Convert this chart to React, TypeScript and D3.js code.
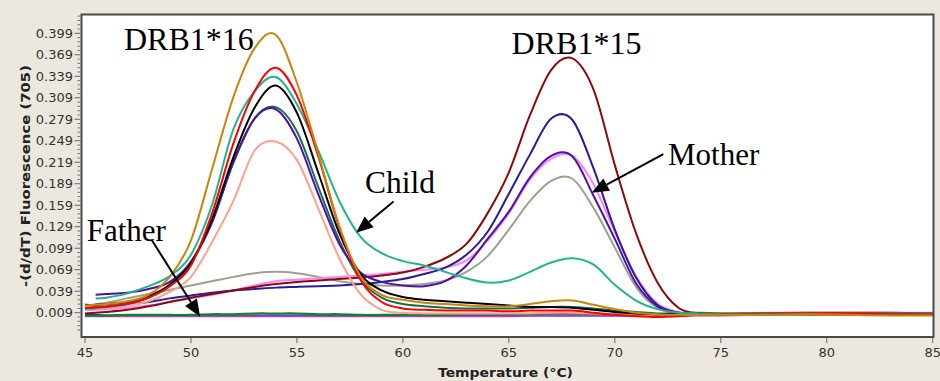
import React from "react";
import * as d3 from "d3";

const temps = [45, 45.5, 46, 47, 48, 49, 50, 51, 52, 53, 54, 55, 56, 57, 58, 59, 60, 61, 62, 63, 64, 65, 66, 67, 68, 69, 70, 71, 72, 73, 74, 75, 77, 79, 81, 83, 85];

// -(d/dT) Fluorescence (705) values, one array per sample
const gold = [0.019, 0.020, 0.021, 0.025, 0.034, 0.059, 0.110, 0.210, 0.310, 0.378, 0.397, 0.330, 0.232, 0.130, 0.060, 0.034, 0.027, 0.023, 0.021, 0.019, 0.018, 0.018, 0.021, 0.025, 0.026, 0.020, 0.014, 0.009, 0.007, 0.006, 0.006, 0.006, 0.006, 0.007, 0.006, 0.005, 0.005];
const red = [0.016, 0.017, 0.018, 0.022, 0.030, 0.046, 0.075, 0.148, 0.245, 0.318, 0.351, 0.312, 0.228, 0.128, 0.055, 0.024, 0.015, 0.013, 0.012, 0.012, 0.012, 0.011, 0.012, 0.012, 0.012, 0.009, 0.006, 0.004, 0.003, 0.004, 0.006, 0.007, 0.007, 0.008, 0.008, 0.007, 0.007];
const teal = [null, 0.029, 0.030, 0.036, 0.046, 0.060, 0.090, 0.160, 0.265, 0.318, 0.338, 0.300, 0.236, 0.165, 0.115, 0.092, 0.081, 0.075, 0.066, 0.057, 0.051, 0.054, 0.066, 0.079, 0.085, 0.076, 0.048, 0.026, 0.014, 0.009, 0.008, 0.008, 0.008, 0.008, 0.008, 0.008, 0.008];
const black = [0.020, 0.020, 0.021, 0.024, 0.032, 0.048, 0.078, 0.140, 0.226, 0.295, 0.326, 0.288, 0.205, 0.120, 0.063, 0.040, 0.031, 0.027, 0.025, 0.023, 0.021, 0.019, 0.017, 0.017, 0.016, 0.013, 0.010, 0.008, 0.007, 0.007, 0.008, 0.007, 0.007, 0.007, 0.007, 0.007, 0.007];
const darkGreen = [0.015, 0.016, 0.017, 0.021, 0.030, 0.048, 0.080, 0.137, 0.218, 0.280, 0.296, 0.262, 0.185, 0.110, 0.055, 0.030, 0.021, 0.018, 0.016, 0.015, 0.015, 0.015, 0.016, 0.017, 0.017, 0.015, 0.012, 0.010, 0.008, 0.008, 0.009, 0.008, 0.008, 0.008, 0.008, 0.008, 0.008];
const indigo = [null, 0.034, 0.035, 0.037, 0.042, 0.052, 0.080, 0.135, 0.220, 0.280, 0.293, 0.252, 0.175, 0.105, 0.065, 0.052, 0.047, 0.046, 0.053, 0.075, 0.112, 0.150, 0.198, 0.228, 0.227, 0.172, 0.112, 0.050, 0.018, 0.009, 0.007, 0.007, 0.008, 0.008, 0.008, 0.008, 0.008];
const salmon = [0.014, 0.015, 0.016, 0.019, 0.025, 0.038, 0.059, 0.108, 0.165, 0.235, 0.248, 0.222, 0.155, 0.085, 0.035, 0.013, 0.009, 0.008, 0.008, 0.008, 0.008, 0.008, 0.008, 0.009, 0.009, 0.008, 0.007, 0.006, 0.006, 0.006, 0.006, 0.006, 0.006, 0.006, 0.007, 0.007, 0.007];
const maroon = [0.008, 0.009, 0.010, 0.013, 0.018, 0.024, 0.030, 0.035, 0.040, 0.045, 0.049, 0.052, 0.054, 0.056, 0.058, 0.061, 0.065, 0.073, 0.085, 0.105, 0.148, 0.205, 0.285, 0.348, 0.364, 0.320, 0.215, 0.120, 0.052, 0.016, 0.008, 0.007, 0.008, 0.009, 0.009, 0.009, 0.008];
const navy = [0.014, 0.015, 0.017, 0.020, 0.024, 0.029, 0.033, 0.037, 0.040, 0.042, 0.044, 0.045, 0.046, 0.047, 0.049, 0.052, 0.056, 0.063, 0.072, 0.090, 0.122, 0.175, 0.230, 0.280, 0.278, 0.210, 0.125, 0.058, 0.020, 0.009, 0.007, 0.007, 0.008, 0.008, 0.008, 0.007, 0.007];
const pink = [0.013, 0.013, 0.014, 0.016, 0.019, 0.024, 0.029, 0.034, 0.040, 0.047, 0.053, 0.055, 0.057, 0.059, 0.061, 0.063, 0.066, 0.069, 0.072, 0.082, 0.110, 0.148, 0.195, 0.224, 0.228, 0.188, 0.122, 0.060, 0.022, 0.010, 0.008, 0.008, 0.009, 0.009, 0.009, 0.009, 0.009];
const grey = [null, 0.021, 0.023, 0.029, 0.035, 0.041, 0.047, 0.053, 0.059, 0.064, 0.066, 0.064, 0.059, 0.053, 0.049, 0.047, 0.047, 0.049, 0.054, 0.066, 0.088, 0.125, 0.165, 0.193, 0.196, 0.155, 0.100, 0.045, 0.016, 0.008, 0.007, 0.007, 0.008, 0.008, 0.008, 0.008, 0.008];
const flatGreen = [0.005, 0.005, 0.005, 0.006, 0.006, 0.006, 0.006, 0.007, 0.007, 0.008, 0.008, 0.008, 0.007, 0.007, 0.006, 0.006, 0.006, 0.006, 0.006, 0.007, 0.007, 0.007, 0.007, 0.008, 0.008, 0.007, 0.007, 0.006, 0.006, 0.006, 0.006, 0.007, 0.007, 0.007, 0.007, 0.007, 0.007];
const flatBlue = [0.006, 0.006, 0.005, 0.005, 0.005, 0.005, 0.005, 0.005, 0.005, 0.005, 0.005, 0.005, 0.005, 0.005, 0.005, 0.005, 0.005, 0.005, 0.005, 0.005, 0.005, 0.005, 0.005, 0.005, 0.005, 0.005, 0.005, 0.005, 0.005, 0.005, 0.006, 0.006, 0.006, 0.007, 0.007, 0.007, 0.007];
const flatMagenta = [0.004, 0.004, 0.004, 0.004, 0.004, 0.004, 0.004, 0.004, 0.004, 0.004, 0.004, 0.004, 0.004, 0.004, 0.004, 0.004, 0.004, 0.004, 0.004, 0.004, 0.004, 0.004, 0.005, 0.005, 0.005, 0.005, 0.005, 0.005, 0.005, 0.005, 0.005, 0.005, 0.006, 0.006, 0.006, 0.006, 0.006];

// Axis ticks
const xTicks = [45, 50, 55, 60, 65, 70, 75, 80, 85];
const yTicks = [0.009, 0.039, 0.069, 0.099, 0.129, 0.159, 0.189, 0.219, 0.249, 0.279, 0.309, 0.339, 0.369, 0.399];
const yTickLabels = ["0.009", "0.039", "0.069", "0.099", "0.129", "0.159", "0.189", "0.219", "0.249", "0.279", "0.309", "0.339", "0.369", "0.399"];

// Annotation labels (data coordinates)
const labelTexts = ["DRB1*16", "DRB1*15", "Mother", "Child", "Father"];
const labelT = [46.84, 65.13, 72.51, 58.21, 45.08];
const labelV = [0.3757, 0.3701, 0.2152, 0.1761, 0.1084];
const labelSize = [32, 32, 31, 31.5, 31];
// Arrows: from (T0,V0) to (T1,V1)
const arrowT0 = [59.56, 72.29, 48.15];
const arrowV0 = [0.1642, 0.2305, 0.1105];
const arrowT1 = [57.79, 68.91, 50.43];
const arrowV1 = [0.1207, 0.1765, 0.0034];

const series = [
  { values: flatBlue, color: "#1010F0" },
  { values: flatMagenta, color: "#B040C0" },
  { values: flatGreen, color: "#008A1A" },
  { values: grey, color: "#9EA08F" },
  { values: pink, color: "#FF80FF" },
  { values: navy, color: "#2A1A9C" },
  { values: maroon, color: "#8B0A0A" },
  { values: salmon, color: "#FFA08C" },
  { values: darkGreen, color: "#14704C" },
  { values: indigo, color: "#4E10A6" },
  { values: black, color: "#000000" },
  { values: teal, color: "#1FB590" },
  { values: red, color: "#FF0000" },
  { values: gold, color: "#C8860A" },
];

export default function App() {
  const W = 940;
  const H = 381;
  const x = d3.scaleLinear().domain([45, 85]).range([85, 932.7]);
  const y = d3.scaleLinear().domain([0.009, 0.399]).range([312.7, 33.3]);
  const plot = { left: 81.5, right: 933.5, top: 14.5, bottom: 337 };

  const line = d3
    .line<[number, number | null]>()
    .defined((d) => d[1] != null)
    .x((d) => x(d[0]))
    .y((d) => y(d[1] as number))
    .curve(d3.curveCatmullRom.alpha(0));

  const yMin = y.invert(plot.bottom);
  const yMax = y.invert(plot.top);
  const minorTicks: number[] = [];
  for (let k = -10; k <= 80; k++) {
    const v = 0.009 + k * 0.006;
    if (v < yMin || v > yMax) continue;
    if (k % 5 === 0) continue;
    minorTicks.push(v);
  }

  const arrows = arrowT0.map((t0, i) => {
    const x0 = x(t0), y0 = y(arrowV0[i]);
    const x1 = x(arrowT1[i]), y1 = y(arrowV1[i]);
    const dx = x1 - x0, dy = y1 - y0;
    const len = Math.hypot(dx, dy);
    const ux = dx / len, uy = dy / len;
    const hl = 17, hw = 7;
    const bx = x1 - ux * hl, by = y1 - uy * hl;
    const pts = [
      [x1, y1],
      [bx - uy * hw, by + ux * hw],
      [bx + uy * hw, by - ux * hw],
    ];
    return { x0, y0, bx, by, pts };
  });

  return (
    <svg
      width={W}
      height={H}
      style={{ position: "absolute", left: 0, top: 0, display: "block" }}
    >
      <rect width={W} height={H} fill="#ECE8DF" />
      <defs>
        <clipPath id="plotclip">
          <rect x={plot.left + 1} y={plot.top + 1} width={plot.right - plot.left - 2} height={plot.bottom - plot.top - 2} />
        </clipPath>
      </defs>
      <rect x={plot.left} y={plot.top} width={plot.right - plot.left} height={plot.bottom - plot.top} fill="#FFFFFF" />
      <g clipPath="url(#plotclip)">
        {series.map((s, i) => (
          <path
            key={i}
            d={line(temps.map((t, j) => [t, s.values[j]] as [number, number | null])) || ""}
            fill="none"
            stroke={s.color}
            strokeWidth={2}
            strokeLinejoin="round"
          />
        ))}
      </g>
      <rect x={plot.left} y={plot.top} width={plot.right - plot.left} height={plot.bottom - plot.top} fill="none" stroke="#4A4A4A" strokeWidth={2} />

      {/* y ticks */}
      {minorTicks.map((v, i) => (
        <line key={"m" + i} x1={plot.left - 4} x2={plot.left - 1} y1={y(v)} y2={y(v)} stroke="#777" strokeWidth={1} />
      ))}
      {yTicks.map((v, i) => (
        <g key={"y" + i}>
          <line x1={plot.left - 7} x2={plot.left - 1} y1={y(v)} y2={y(v)} stroke="#666" strokeWidth={1} />
          <text x={73} y={y(v)} dy="0.35em" textAnchor="end" fontFamily="DejaVu Sans" fontSize={13} fill="#333">
            {yTickLabels[i]}
          </text>
        </g>
      ))}
      {/* x ticks */}
      {xTicks.map((t, i) => (
        <g key={"x" + i}>
          <line x1={x(t)} x2={x(t)} y1={plot.bottom + 1} y2={plot.bottom + 6} stroke="#666" strokeWidth={1} />
          <text x={x(t)} y={357} textAnchor="middle" fontFamily="DejaVu Sans" fontSize={13} fill="#333">
            {String(t)}
          </text>
        </g>
      ))}

      <text x={505.5} y={376.5} textAnchor="middle" fontFamily="DejaVu Sans" fontWeight="bold" fontSize={13} fill="#222" textLength={135} lengthAdjust="spacingAndGlyphs">
        Temperature (°C)
      </text>
      <text transform="translate(29.5,176) rotate(-90)" textAnchor="middle" fontFamily="DejaVu Sans" fontWeight="bold" fontSize={13} fill="#222" textLength={222} lengthAdjust="spacingAndGlyphs">
        -(d/dT) Fluorescence (705)
      </text>

      {labelTexts.map((t, i) => (
        <text key={"l" + i} x={x(labelT[i])} y={y(labelV[i])} fontFamily="Liberation Serif" fontSize={labelSize[i]} fill="#000">
          {t}
        </text>
      ))}
      {arrows.map((a, i) => (
        <g key={"a" + i}>
          <line x1={a.x0} y1={a.y0} x2={a.bx} y2={a.by} stroke="#000" strokeWidth={2} />
          <polygon points={a.pts.map((p) => p.join(",")).join(" ")} fill="#000" />
        </g>
      ))}
    </svg>
  );
}
